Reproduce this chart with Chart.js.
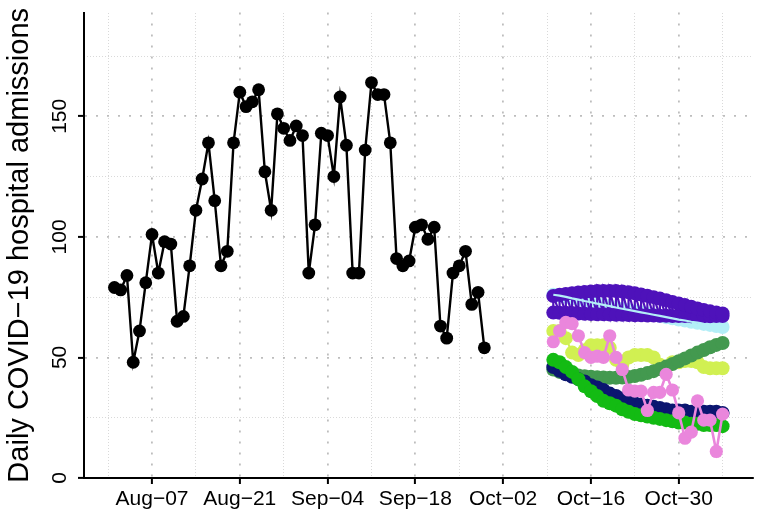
<!DOCTYPE html>
<html>
<head>
<meta charset="utf-8">
<script src="https://cdn.jsdelivr.net/npm/chart.js@4"></script>
<style>
  html, body { margin: 0; padding: 0; background: #fff; }
  #admissions { display: block; }
</style>
</head>
<body>
<canvas id="admissions" width="765" height="517"></canvas>
<script>
// observed daily admissions, one value per day from observedStart
const observedStart = "2021-08-01";
const observed = [79, 78, 84, 48, 61, 81, 101, 85, 98, 97, 65, 67, 88, 111, 124, 139, 115, 88, 94, 139,
  160, 154, 156, 161, 127, 111, 151, 145, 140, 146, 142,
  85, 105, 143, 142, 125, 158, 138, 85, 85, 136, 164, 159, 159, 139, 91, 88, 90, 104, 105, 99, 104,
  63, 58, 85, 88, 94, 72, 77, 54];

// forecasts, one value per day from forecastStart
const forecastStart = "2021-10-10";
const purpleHigh = [75.5, 76, 76.3, 76.6, 76.9, 77.1, 77.3, 77.5, 77.6, 77.6, 77.5, 77.3, 77, 76.6,
  76.1, 75.6, 75, 74.4, 73.7, 73, 72.4, 71.7, 71, 70.3, 69.7, 69.1, 68.6, 68.2];
const purpleLow = [68.6, 68.5, 68.5, 68.4, 68.2, 68.1, 68, 67.9, 67.9, 67.8, 67.7, 67.7, 67.6, 67.5,
  67.5, 67.4, 67.4, 67.3, 67.3, 67.2, 67.2, 67.2, 67.1, 67.1, 67.1, 67.1, 67.2, 67.2];
const lightBlue = [76, 75.6, 75.1, 74.5, 74, 73.4, 72.9, 72.3, 71.8, 71.3, 70.7, 70.2, 69.7, 69.2,
  68.7, 68.2, 67.7, 67.2, 66.7, 66.2, 65.7, 65.3, 64.8, 64.4, 63.9, 63.5, 63, 62.6];
const yellow = [61, 61, 58, 52, 51, 53, 55, 55, 55, 54, 49, 47, 50, 51, 51, 51, 50, 47, 46, 48,
  48, 48.5, 48.5, 48, 46, 45.5, 45.5, 45.5];
const darkGreen = [45, 44, 43.5, 43, 42.5, 42.2, 42, 41.8, 41.7, 41.6, 41.6, 41.7, 41.9, 42.3,
  42.8, 43.5, 44.3, 45.2, 46.2, 47.3, 48.4, 49.6, 50.8, 52, 53.1, 54.2, 55.2, 56];
const brightGreen = [49, 48, 46, 44, 41, 38, 36, 34, 32, 31, 30, 28.5, 27.5, 26.5, 26, 25.5, 25,
  24.5, 24, 23.5, 23, 23, 22.5, 22.5, 22, 22, 22, 21.5];
const navy = [46, 44.5, 43, 42, 41, 40, 38.5, 37.5, 36.5, 35, 34, 33, 32, 31, 30.5, 30, 29.5, 29,
  28.5, 28, 28, 28, 27.5, 27.5, 27.5, 27.5, 27.5, 27];
const pink = [56.5, 61, 64.5, 64, 59, 52, 50, 50.5, 50, 59, 50, 45, 36.5, 36, 36, 28, 35.5, 35.5,
  43, 36.5, 27, 16.5, 19, 32, 24, 24, 11, 26.5];

// axis ticks
const xMajorTicks = ["2021-08-07", "2021-08-21", "2021-09-04", "2021-09-18", "2021-10-02", "2021-10-16", "2021-10-30"];
const xMinorTicks = ["2021-07-31", "2021-08-14", "2021-08-28", "2021-09-11", "2021-09-25", "2021-10-09", "2021-10-23", "2021-11-06"];
const yMajorTicks = [0, 50, 100, 150];
const yMinorTicks = [25, 75, 125, 175];

const MONTHS = ["Jan", "Feb", "Mar", "Apr", "May", "Jun", "Jul", "Aug", "Sep", "Oct", "Nov", "Dec"];
const toDay = (s) => Date.UTC(+s.slice(0, 4), +s.slice(5, 7) - 1, +s.slice(8, 10)) / 86400000;
const dayLabel = (v) => {
  const d = new Date(Math.round(v) * 86400000);
  return MONTHS[d.getUTCMonth()] + "\u2212" + String(d.getUTCDate()).padStart(2, "0");
};
const series = (start, values) => values.map((y, i) => ({ x: toDay(start) + i, y }));
// two forecasts per date, joined in date order
const zigzag = (start, low, high) =>
  low.flatMap((y, i) => [{ x: toDay(start) + i, y }, { x: toDay(start) + i, y: high[i] }]);

const firstDay = toDay(observedStart);
const lastDay = toDay(forecastStart) + pink.length - 1;
const pad = (lastDay - firstDay) * 0.05;

const FONT = "'Liberation Sans', Arial, sans-serif";
const GRID_MAJOR = "#bdbdbd";
const GRID_MINOR = "#d9d9d9";

const line = (data, color, extra) => Object.assign({
  data,
  borderColor: color,
  backgroundColor: color,
  pointBackgroundColor: color,
  borderWidth: 2.2,
  pointRadius: 7,
  pointHoverRadius: 7,
  pointBorderWidth: 0,
  tension: 0,
}, extra || {});

// first dataset is drawn on top
const datasets = [
  line(series(forecastStart, pink), "#ea86dc", { borderWidth: 2.6, pointRadius: 6.6 }),
  line(series(forecastStart, brightGreen), "#13bb13"),
  line(series(forecastStart, navy), "#0b1670"),
  line(series(forecastStart, darkGreen), "#43994f"),
  line(series(forecastStart, yellow), "#d1f052"),
  line(series(forecastStart, lightBlue), "#b3eef7", { pointRadius: 0 }),
  line(zigzag(forecastStart, purpleLow, purpleHigh), "#4e12ba"),
  line(series(forecastStart, lightBlue), "#b3eef7"),
  line(series(observedStart, observed), "#000000", { borderWidth: 2.4, pointRadius: 6.4 }),
];

new Chart(document.getElementById("admissions"), {
  type: "line",
  data: { datasets },
  options: {
    responsive: false,
    animation: false,
    layout: { padding: { left: 0, top: 10, right: 12, bottom: 0 } },
    plugins: { legend: { display: false }, tooltip: { enabled: false } },
    scales: {
      x: {
        type: "linear",
        position: "bottom",
        min: firstDay - pad,
        max: lastDay + pad,
        afterBuildTicks: (s) => { s.ticks = xMajorTicks.map((d) => ({ value: toDay(d) })); },
        afterFit: (s) => { s.height = 39; },
        ticks: {
          callback: (v) => dayLabel(v),
          font: { family: FONT, size: 21 },
          color: "#000",
          padding: 3,
          maxRotation: 0,
          autoSkip: false,
        },
        grid: { color: GRID_MAJOR, lineWidth: 1.8, tickLength: 6, tickColor: "#000", tickWidth: 2 },
        border: { display: true, color: "#000", width: 2, dash: [2, 9] },
      },
      xMinor: {
        type: "linear",
        position: "top",
        min: firstDay - pad,
        max: lastDay + pad,
        afterBuildTicks: (s) => { s.ticks = xMinorTicks.map((d) => ({ value: toDay(d) })); },
        afterFit: (s) => { s.height = 0; },
        ticks: { display: false },
        grid: { color: GRID_MINOR, lineWidth: 1, drawTicks: false },
        border: { display: false, dash: [1, 2] },
      },
      y: {
        position: "left",
        min: 0,
        max: 193,
        afterBuildTicks: (s) => { s.ticks = yMajorTicks.map((v) => ({ value: v })); },
        afterFit: (s) => { s.width = 84; },
        ticks: {
          font: { family: FONT, size: 21 },
          color: "#000",
          padding: 0,
          minRotation: 90,
          maxRotation: 90,
          crossAlign: "center",
        },
        grid: { color: GRID_MAJOR, lineWidth: 1.8, tickLength: 6, tickColor: "#000", tickWidth: 2 },
        border: { display: true, color: "#000", width: 2, dash: [2, 9] },
        title: {
          display: true,
          text: "Daily COVID\u221219 hospital admissions",
          font: { family: FONT, size: 29 },
          color: "#000",
          padding: { top: 2.6, bottom: 0 },
        },
      },
      yMinor: {
        position: "right",
        min: 0,
        max: 193,
        afterBuildTicks: (s) => { s.ticks = yMinorTicks.map((v) => ({ value: v })); },
        afterFit: (s) => { s.width = 0; },
        ticks: { display: false },
        grid: { color: GRID_MINOR, lineWidth: 1, drawTicks: false },
        border: { display: false, dash: [1, 2] },
      },
    },
  },
});
</script>
</body>
</html>
